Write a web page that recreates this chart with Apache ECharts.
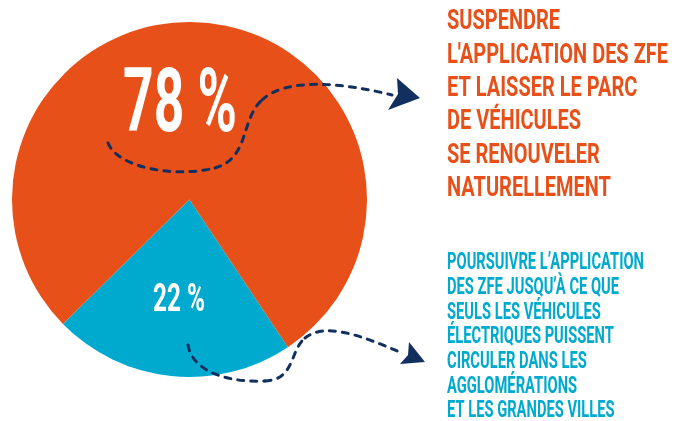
<!DOCTYPE html>
<html>
<head>
<meta charset="utf-8">
<script src="https://cdn.jsdelivr.net/npm/echarts@6/dist/echarts.min.js"></script>
<style>
  html, body { margin: 0; background: #fff; }
  #chart { width: 679px; height: 421px; }
</style>
</head>
<body>
<div id="chart"></div>
<script>
// données
const choices = ["Poursuivre l'application des ZFE", "Suspendre l'application des ZFE"];
const shares = [22, 78];
const sliceColors = ["#00AACF", "#E8501A"];

const suspendreLines = ["SUSPENDRE", "L'APPLICATION DES ZFE", "ET LAISSER LE PARC", "DE VÉHICULES", "SE RENOUVELER", "NATURELLEMENT"];
const poursuivreLines = ["POURSUIVRE L’APPLICATION", "DES ZFE JUSQU’À CE QUE", "SEULS LES VÉHICULES", "ÉLECTRIQUES PUISSENT", "CIRCULER DANS LES", "AGGLOMÉRATIONS", "ET LES GRANDES VILLES"];

const NAVY = "#12305F";
const FONT = "Roboto";

// largeur du texte pour "condenser" la police
const ctx = document.createElement("canvas").getContext("2d");
function fit(str, size, target) {
  ctx.font = `bold ${size}px ${FONT}`;
  return target / ctx.measureText(str).width;
}

function txt(str, x, y, size, color, sx) {
  return {
    type: "text",
    x: x,
    y: y,
    scaleX: sx,
    z: 100,
    style: {
      text: str,
      font: `bold ${size}px ${FONT}`,
      fill: color,
      textAlign: "left",
      textVerticalAlign: "middle",
    },
  };
}

// courbe de Bézier (segments) : [x1, y1, cpx1, cpy1, cpx2, cpy2, x2, y2]
const dashStyle = { stroke: NAVY, fill: null, lineWidth: 3, lineDash: [6, 7], lineCap: "round" };
function curve(s) {
  return {
    type: "bezierCurve",
    z: 100,
    shape: { x1: s[0], y1: s[1], cpx1: s[2], cpy1: s[3], cpx2: s[4], cpy2: s[5], x2: s[6], y2: s[7] },
    style: dashStyle,
  };
}

const chart = echarts.init(document.getElementById("chart"));

const graphics = [];
// valeurs sur le camembert
const bigLabel = `${shares[1]} %`;
const smallLabel = `${shares[0]} %`;
graphics.push(txt(bigLabel, 123, 108.5, 89, "#fff", fit(bigLabel, 89, 114)));
graphics.push(txt(smallLabel, 153, 301, 39, "#fff", fit(smallLabel, 39, 52)));

// textes à droite
const sxOrange = fit(suspendreLines[1], 27, 221);
suspendreLines.forEach((l, i) => {
  graphics.push(txt(l, 447, 22.5 + i * 33.4, 27, sliceColors[1], sxOrange));
});
const sxBlue = fit(poursuivreLines[0], 23, 197);
poursuivreLines.forEach((l, i) => {
  graphics.push(txt(l, 447, 263.5 + i * 24.7, 23, sliceColors[0], sxBlue));
});

// flèches pointillées
graphics.push(curve([108, 143, 118, 168, 175, 178, 215, 168]));
graphics.push(curve([215, 168, 250, 158, 240, 120, 262, 100]));
graphics.push(curve([262, 100, 285, 78, 340, 82, 392, 95]));
graphics.push({
  type: "polygon", z: 100,
  shape: { points: [[420, 98], [397, 78], [398, 94], [388, 110]] },
  style: { fill: NAVY },
});
graphics.push(curve([188, 345, 192, 372, 230, 383, 265, 381]));
graphics.push(curve([265, 381, 295, 380, 290, 350, 305, 338]));
graphics.push(curve([305, 338, 325, 322, 360, 335, 402, 353]));
graphics.push({
  type: "polygon", z: 100,
  shape: { points: [[425, 362], [409, 342], [408, 355], [400, 364]] },
  style: { fill: NAVY },
});

const option = {
  animation: false,
  series: [
    {
      type: "pie",
      center: [189.5, 199.5],
      radius: 177.5,
      startAngle: 303.7,
      clockwise: true,
      silent: true,
      label: { show: false },
      labelLine: { show: false },
      itemStyle: { borderWidth: 0 },
      data: choices.map((name, i) => ({
        name: name,
        value: shares[i],
        itemStyle: { color: sliceColors[i] },
      })),
    },
  ],
  graphic: graphics,
};
chart.setOption(option);
</script>
</body>
</html>
